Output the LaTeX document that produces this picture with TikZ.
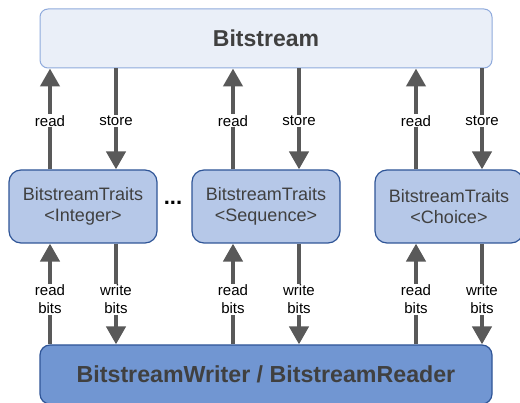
\documentclass[tikz,border=0pt]{standalone}
\usepackage{fontspec}
\setmainfont{Liberation Sans}
\usetikzlibrary{arrows.meta}
\definecolor{streamfill}{HTML}{EAEFF8}
\definecolor{streamline}{HTML}{8FAADC}
\definecolor{traitsfill}{HTML}{B6C8E8}
\definecolor{darkline}{HTML}{2F5597}
\definecolor{ioFill}{HTML}{7196D2}
\definecolor{arrowgray}{HTML}{595959}
\definecolor{textgray}{HTML}{404040}
\begin{document}
\begin{tikzpicture}[x=1pt, y=-1pt,
    streambox/.style={draw=streamline, fill=streamfill, line width=1pt, rounded corners=8pt,
      minimum width=452pt, minimum height=59pt, text=textgray,
      font=\fontsize{23}{27}\selectfont\bfseries},
    traitsbox/.style={draw=darkline, fill=traitsfill, line width=1.2pt, rounded corners=12pt,
      minimum width=148pt, minimum height=73pt, align=center, text=textgray,
      font=\fontsize{18}{21}\selectfont},
    iobox/.style={draw=darkline, fill=ioFill, line width=1.2pt, rounded corners=10pt,
      minimum width=452pt, minimum height=59pt, text=textgray,
      font=\fontsize{23.2}{27}\selectfont\bfseries},
    flow/.style={draw=arrowgray, line width=4.3pt, -{Triangle[width=19pt,length=18pt]}},
    lbl/.style={fill=white, inner sep=1pt, align=center, text=black,
      font=\fontsize{15}{18}\selectfont}]
  \useasboundingbox (0,0) rectangle (520,403);

  \node[streambox] (stream) at (266, 38.5) {Bitstream};
  \node[traitsbox] (int) at (83, 206.5) {BitstreamTraits\\<Integer>};
  \node[traitsbox] (seq) at (266, 206.5) {BitstreamTraits\\<Sequence>};
  \node[traitsbox] (cho) at (449, 206.5) {BitstreamTraits\\<Choice>};
  \node[iobox] (bits) at (266, 374.5) {BitstreamWriter / BitstreamReader};
  \node[font=\fontsize{22}{26}\selectfont\bfseries, text=black] (dots) at (173, 203) {...};

  % traits <-> bitstream
  \foreach \t in {int, seq, cho} {
    \draw[flow] ([xshift=-33pt]\t.north) -- ([xshift=-33pt]\t.north |- stream.south)
      node[lbl, pos=0.48] {read};
    \draw[flow] ([xshift=33pt]\t.north |- stream.south) -- ([xshift=33pt]\t.north)
      node[lbl, pos=0.52] {store};
  }

  % writer/reader <-> traits
  \foreach \t in {int, seq, cho} {
    \draw[flow] ([xshift=-33pt]\t.south |- bits.north) -- ([xshift=-33pt]\t.south)
      node[lbl, pos=0.45] {read\\bits};
    \draw[flow] ([xshift=33pt]\t.south) -- ([xshift=33pt]\t.south |- bits.north)
      node[lbl, pos=0.55] {write\\bits};
  }
\end{tikzpicture}
\end{document}
